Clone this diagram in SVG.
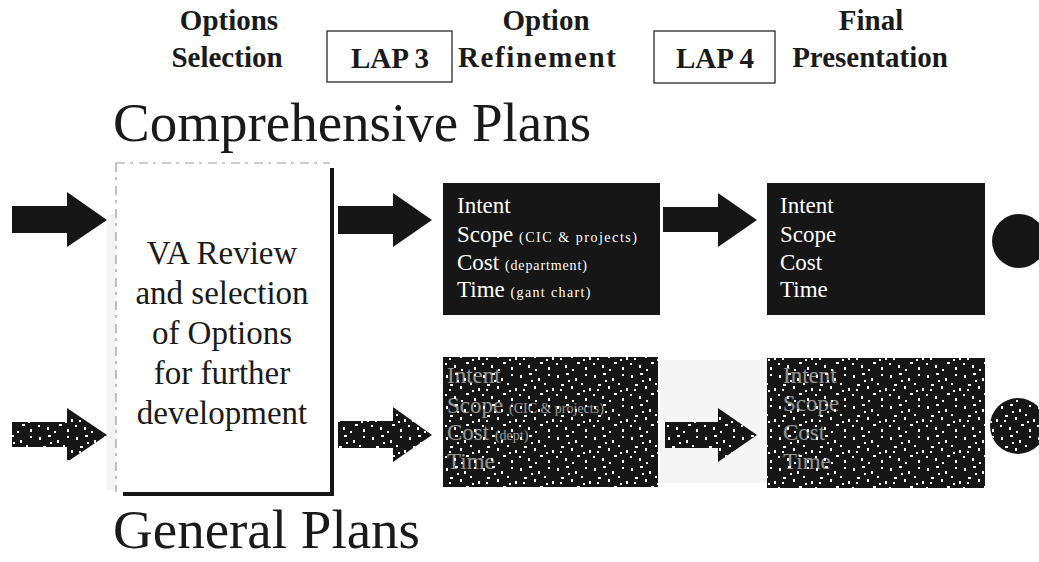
<svg xmlns="http://www.w3.org/2000/svg" width="1039" height="562" viewBox="0 0 1039 562">
  <style>
    .hdr { font-family: "Liberation Serif", "Times New Roman", serif; font-weight: bold; font-size: 29px; fill: #1a1a1a; text-anchor: middle; }
    .big { font-family: "Liberation Serif", "Times New Roman", serif; font-size: 55px; fill: #1a1a1a; }
    .va { font-family: "Liberation Serif", "Times New Roman", serif; font-size: 33px; fill: #1a1a1a; text-anchor: middle; }
    .item { font-family: "Liberation Serif", "Times New Roman", serif; font-size: 23px; fill: #ffffff; }
    .note { font-size: 14px; }
    .dim { fill: #ffffff; opacity: 0.55; }
    .solid { fill: #161616; }
    .lapbox { fill: none; stroke: #2a2a2a; stroke-width: 1.3; }
  </style>
  <defs>
    <!-- scattered white grain used on the lower (general plans) row -->
    <pattern id="speck" width="37" height="31" patternUnits="userSpaceOnUse">
      <rect x="2" y="3" width="2" height="3" fill="#fff"/>
      <rect x="11" y="1" width="3" height="2" fill="#fff"/>
      <rect x="20" y="6" width="2" height="3" fill="#fff"/>
      <rect x="30" y="2" width="2" height="2" fill="#fff"/>
      <rect x="6" y="12" width="3" height="2" fill="#fff"/>
      <rect x="16" y="14" width="2" height="3" fill="#fff"/>
      <rect x="26" y="11" width="2" height="2" fill="#fff"/>
      <rect x="34" y="16" width="2" height="3" fill="#fff"/>
      <rect x="1" y="22" width="2" height="2" fill="#fff"/>
      <rect x="10" y="24" width="2" height="3" fill="#fff"/>
      <rect x="22" y="21" width="3" height="2" fill="#fff"/>
      <rect x="30" y="26" width="2" height="3" fill="#fff"/>
      <rect x="17" y="28" width="2" height="2" fill="#fff"/>
      <rect x="13" y="8" width="2" height="2" fill="#fff"/>
      <rect x="28" y="18" width="2" height="2" fill="#fff"/>
      <rect x="5" y="17" width="2" height="2" fill="#fff"/>
    </pattern>
  </defs>

  <rect width="1039" height="562" fill="#ffffff"/>

  <!-- stage headings -->
  <g id="stage-options-selection">
    <text class="hdr" x="229" y="30">Options</text>
    <text class="hdr" x="227" y="67">Selection</text>
  </g>
  <g id="lap3">
    <rect class="lapbox" x="327" y="31" width="125" height="51"/>
    <text class="hdr" x="390" y="68">LAP 3</text>
  </g>
  <g id="stage-option-refinement">
    <text class="hdr" x="546" y="30">Option</text>
    <text class="hdr" x="537" y="67" textLength="158" lengthAdjust="spacing">Refinement</text>
  </g>
  <g id="lap4">
    <rect class="lapbox" x="654" y="31" width="121" height="52"/>
    <text class="hdr" x="715" y="68">LAP 4</text>
  </g>
  <g id="stage-final-presentation">
    <text class="hdr" x="871" y="30">Final</text>
    <text class="hdr" x="870" y="67">Presentation</text>
  </g>

  <!-- row titles -->
  <text id="title-comprehensive" class="big" x="113" y="141">Comprehensive Plans</text>
  <text id="title-general" class="big" x="113" y="548">General Plans</text>

  <!-- review box -->
  <g id="va-review">
    <rect x="107" y="215" width="18" height="275" fill="#f3f3f3"/>
    <rect x="116" y="163" width="216" height="330" fill="#ffffff"/>
    <path d="M116 163 H330 M116 163 V492" fill="none" stroke="#9a9a9a" stroke-width="1.2" stroke-dasharray="9 5 3 6"/>
    <path d="M332 168 V494 H123" fill="none" stroke="#161616" stroke-width="4"/>
    <text class="va" x="222" y="264">VA Review</text>
    <text class="va" x="222" y="304">and selection</text>
    <text class="va" x="222" y="344">of Options</text>
    <text class="va" x="222" y="384">for further</text>
    <text class="va" x="222" y="424">development</text>
  </g>

  <!-- comprehensive plans row -->
  <g id="comp-refinement">
    <rect class="solid" x="443" y="183" width="217" height="132"/>
    <text class="item" x="457" y="213">Intent</text>
    <text class="item" x="457" y="242">Scope <tspan class="note" textLength="118" lengthAdjust="spacing">(CIC &amp; projects)</tspan></text>
    <text class="item" x="457" y="270">Cost <tspan class="note" textLength="82" lengthAdjust="spacing">(department)</tspan></text>
    <text class="item" x="457" y="297">Time <tspan class="note" textLength="80" lengthAdjust="spacing">(gant chart)</tspan></text>
  </g>
  <g id="comp-final">
    <rect class="solid" x="767" y="183" width="218" height="132"/>
    <text class="item" x="780" y="213">Intent</text>
    <text class="item" x="780" y="242">Scope</text>
    <text class="item" x="780" y="270">Cost</text>
    <text class="item" x="780" y="297">Time</text>
  </g>
  <circle id="comp-end" class="solid" cx="1019" cy="241" r="27"/>

  <!-- general plans row -->
  <rect x="660" y="360" width="107" height="123" fill="#f5f5f5"/>
  <g id="gen-refinement">
    <rect class="solid" x="443" y="357" width="215" height="130"/>
    <g class="dim item">
      <text x="447" y="383">Intent</text>
      <text x="447" y="413">Scope <tspan class="note">(CIC &amp; projects)</tspan></text>
      <text x="447" y="440">Cost <tspan class="note">(dept)</tspan></text>
      <text x="447" y="469">Time</text>
    </g>
    <rect x="443" y="357" width="215" height="130" fill="url(#speck)"/>
  </g>
  <g id="gen-final">
    <rect class="solid" x="767" y="358" width="218" height="130"/>
    <g class="dim item">
      <text x="783" y="383">Intent</text>
      <text x="783" y="411">Scope</text>
      <text x="783" y="440">Cost</text>
      <text x="783" y="469">Time</text>
    </g>
    <rect x="767" y="358" width="218" height="130" fill="url(#speck)"/>
  </g>
  <g id="gen-end">
    <circle class="solid" cx="1018" cy="426" r="28"/>
    <circle cx="1018" cy="426" r="28" fill="url(#speck)"/>
  </g>

  <!-- connectors: block arrows -->
  <g id="connectors">
    <polygon class="solid" points="12,206 67,206 67,192 107,220 67,247 67,233 12,233"/>
    <polygon class="solid" points="338,206 393,206 393,193 432,220 393,247 393,234 338,234"/>
    <polygon class="solid" points="663,207 718,207 718,193 757,220 718,247 718,232 663,232"/>
    <g id="gen-arrows">
      <polygon class="solid" points="12,422 67,422 67,408 107,435 67,462 67,447 12,447"/>
      <polygon class="solid" points="338,421 393,421 393,407 432,435 393,462 393,448 338,448"/>
      <polygon class="solid" points="665,422 718,422 718,408 757,435 718,462 718,448 665,448"/>
      <polygon points="12,422 67,422 67,408 107,435 67,462 67,447 12,447" fill="url(#speck)"/>
      <polygon points="338,421 393,421 393,407 432,435 393,462 393,448 338,448" fill="url(#speck)"/>
      <polygon points="665,422 718,422 718,408 757,435 718,462 718,448 665,448" fill="url(#speck)"/>
    </g>
  </g>
</svg>
